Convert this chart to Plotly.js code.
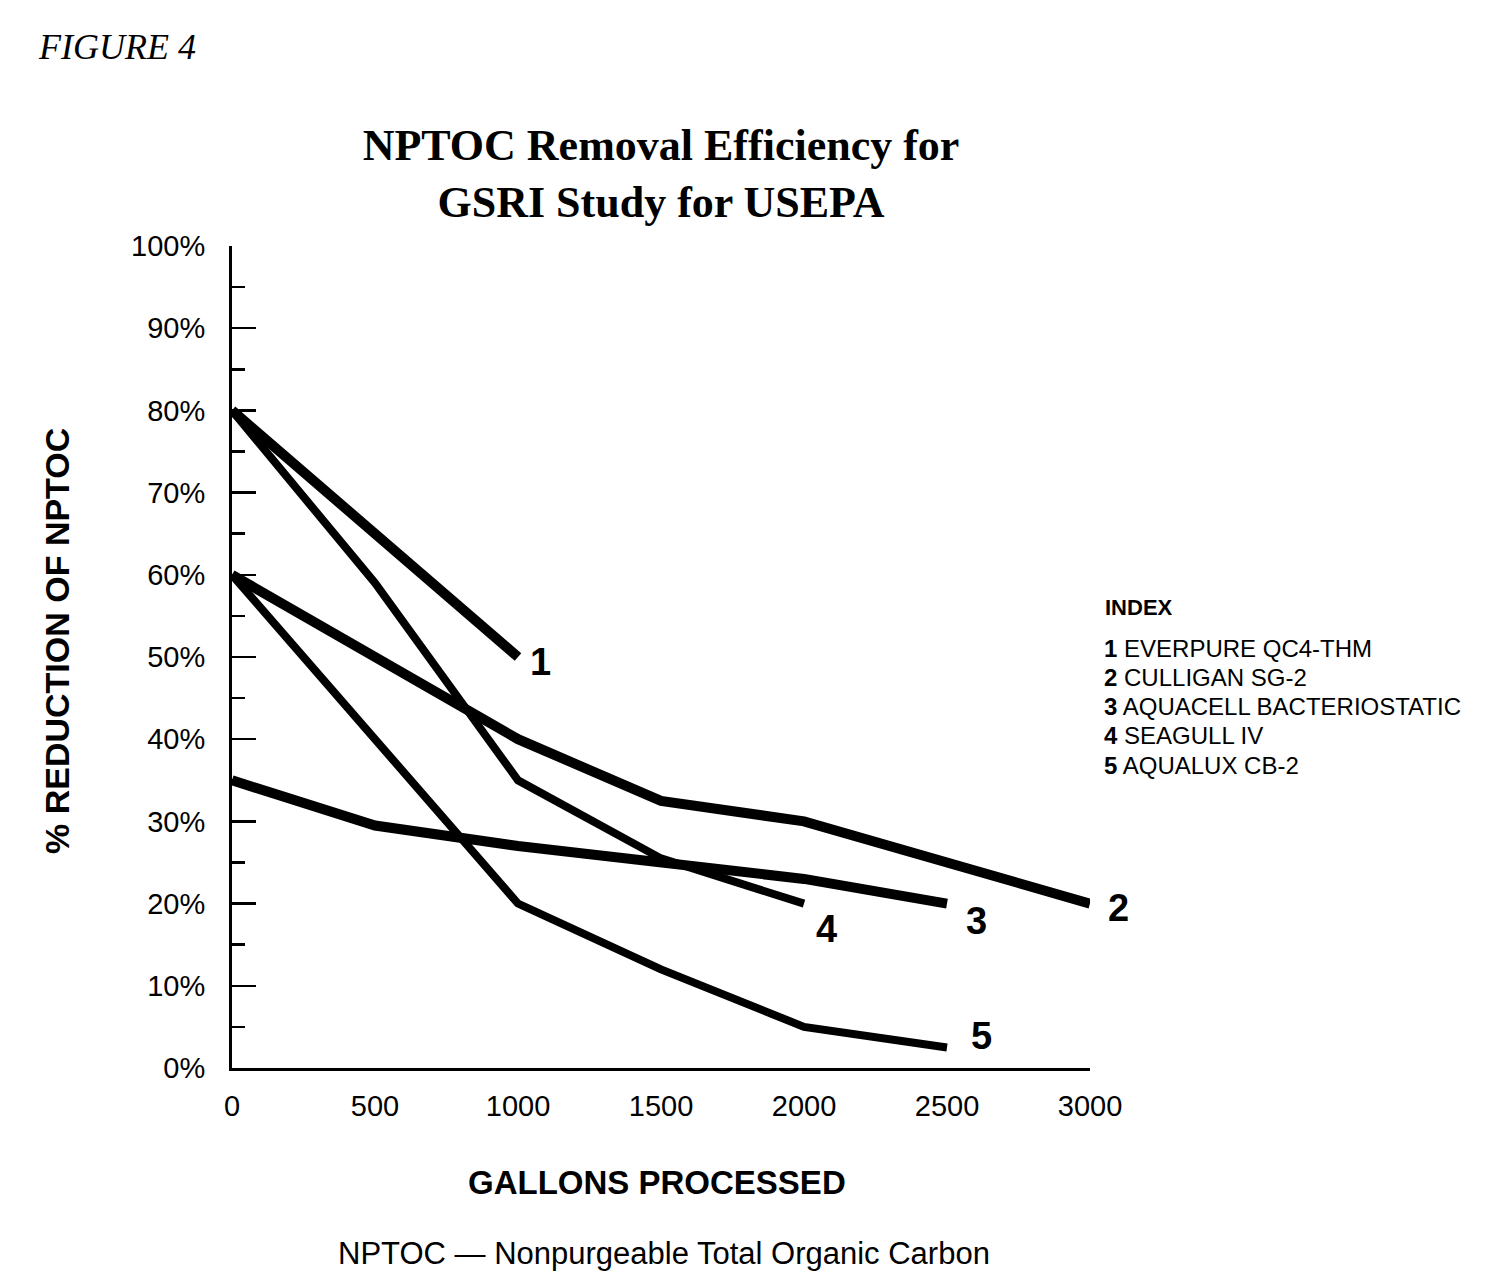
<!DOCTYPE html>
<html>
<head>
<meta charset="utf-8">
<script src="https://cdn.plot.ly/plotly-3.0.1.min.js"></script>
<style>html,body{margin:0;padding:0;background:#fff;}#chart{width:1488px;height:1280px;}</style>
</head>
<body>
<div id="chart"></div>
<script>
// ---- data ----
var seriesNumbers = ["1", "2", "3", "4", "5"];
var seriesNames = ["EVERPURE QC4-THM", "CULLIGAN SG-2", "AQUACELL BACTERIOSTATIC", "SEAGULL IV", "AQUALUX CB-2"];
var gallons1 = [0, 1000];
var reduction1 = [80, 50];
var gallons2 = [0, 1000, 1500, 2000, 2500, 3000];
var reduction2 = [60, 40, 32.5, 30, 25, 20];
var gallons3 = [0, 500, 1000, 1500, 2000, 2500];
var reduction3 = [35, 29.5, 27, 25, 23, 20];
var gallons4 = [0, 500, 1000, 1500, 2000];
var reduction4 = [80, 59, 35, 25.5, 20];
var gallons5 = [0, 1000, 1500, 2000, 2500];
var reduction5 = [60, 20, 12, 5, 2.5];
var xTickVals = [0, 500, 1000, 1500, 2000, 2500, 3000];
var yTickVals = [0, 10, 20, 30, 40, 50, 60, 70, 80, 90, 100];
var yTickText = ["0%", "10%", "20%", "30%", "40%", "50%", "60%", "70%", "80%", "90%", "100%"];

var xs = [gallons1, gallons2, gallons3, gallons4, gallons5];
var ys = [reduction1, reduction2, reduction3, reduction4, reduction5];

// ---- layout geometry (pixels) ----
var W = 1488, H = 1280;
var L = 232, R = 1090, T = 246, B = 1068;
function px(x) { return (x - L) / (R - L); }
function py(y) { return (B - y) / (B - T); }

var SANS = "Liberation Sans, Arial, Helvetica, sans-serif";
var SERIF = "Liberation Serif, Times New Roman, serif";

var lineWidths = [10, 10, 10, 8, 8];
var labelShift = [[22, -5], [28, -4], [29, -17], [22, -25], [34, 11]];

var traces = [];
var annotations = [];
for (var i = 0; i < xs.length; i++) {
  traces.push({
    type: "scatter", mode: "lines",
    x: xs[i], y: ys[i],
    name: seriesNumbers[i] + " " + seriesNames[i],
    line: { color: "#000", width: lineWidths[i], shape: "linear" },
    hoverinfo: "skip", showlegend: false, cliponaxis: false
  });
  var n = xs[i].length - 1;
  annotations.push({
    x: xs[i][n], y: ys[i][n], xref: "x", yref: "y",
    text: "<b>" + seriesNumbers[i] + "</b>", showarrow: false,
    xshift: labelShift[i][0], yshift: labelShift[i][1],
    font: { family: SANS, size: 38, color: "#000" }
  });
}

// index legend
annotations.push({
  xref: "paper", yref: "paper", x: px(1103), y: py(607),
  xanchor: "left", yanchor: "middle", showarrow: false,
  text: "<b>INDEX</b>", font: { family: SANS, size: 22, color: "#000" }
});
var indexY = [648, 677, 706, 735, 765];
for (var k = 0; k < seriesNames.length; k++) {
  annotations.push({
    xref: "paper", yref: "paper", x: px(1102), y: py(indexY[k]),
    xanchor: "left", yanchor: "middle", showarrow: false,
    text: "<b>" + seriesNumbers[k] + "</b> " + seriesNames[k],
    font: { family: SANS, size: 24, color: "#000" }
  });
}

// figure label
annotations.push({
  xref: "paper", yref: "paper", x: px(36), y: py(47),
  xanchor: "left", yanchor: "middle", showarrow: false,
  text: "<i>FIGURE 4</i>", font: { family: SERIF, size: 36, color: "#000" }
});
// axis titles as annotations for precise placement
annotations.push({
  xref: "paper", yref: "paper", x: px(657), y: py(1182),
  xanchor: "center", yanchor: "middle", showarrow: false,
  text: "<b>GALLONS PROCESSED</b>", font: { family: SANS, size: 33, color: "#000" }
});
annotations.push({
  xref: "paper", yref: "paper", x: px(57), y: py(641),
  xanchor: "center", yanchor: "middle", showarrow: false, textangle: -90,
  text: "<b>% REDUCTION OF NPTOC</b>", font: { family: SANS, size: 34, color: "#000" }
});
// footnote
annotations.push({
  xref: "paper", yref: "paper", x: px(664), y: py(1253),
  xanchor: "center", yanchor: "middle", showarrow: false,
  text: "NPTOC \u2014 Nonpurgeable Total Organic Carbon",
  font: { family: SANS, size: 31, color: "#000" }
});

var layout = {
  width: W, height: H,
  margin: { l: L, r: W - R, t: T, b: H - B, pad: 0 },
  paper_bgcolor: "#fff", plot_bgcolor: "#fff",
  showlegend: false,
  title: {
    text: "<b>NPTOC Removal Efficiency for<br>GSRI Study for USEPA</b>",
    x: 661 / W, xanchor: "center", xref: "container",
    y: 1 - 160 / H, yanchor: "middle", yref: "container",
    font: { family: SERIF, size: 44, color: "#000" }
  },
  xaxis: {
    range: [0, 3000], tickvals: xTickVals, ticktext: xTickVals.map(String),
    showgrid: false, zeroline: false, showline: true, linecolor: "#000", linewidth: 3,
    ticks: "", ticklabelstandoff: 10,
    tickfont: { family: SANS, size: 29, color: "#000" },
    fixedrange: true
  },
  yaxis: {
    range: [0, 100], tickvals: yTickVals, ticktext: yTickText,
    showgrid: false, zeroline: false, showline: true, linecolor: "#000", linewidth: 3,
    ticks: "inside", ticklen: 24, tickwidth: 2.5, tickcolor: "#000",
    minor: { dtick: 5, tick0: 0, ticks: "inside", ticklen: 13, tickwidth: 2.5, tickcolor: "#000", showgrid: false },
    ticklabelstandoff: 18,
    tickfont: { family: SANS, size: 29, color: "#000" },
    fixedrange: true
  },
  annotations: annotations
};

Plotly.newPlot("chart", traces, layout, { staticPlot: true, displayModeBar: false });
</script>
</body>
</html>
